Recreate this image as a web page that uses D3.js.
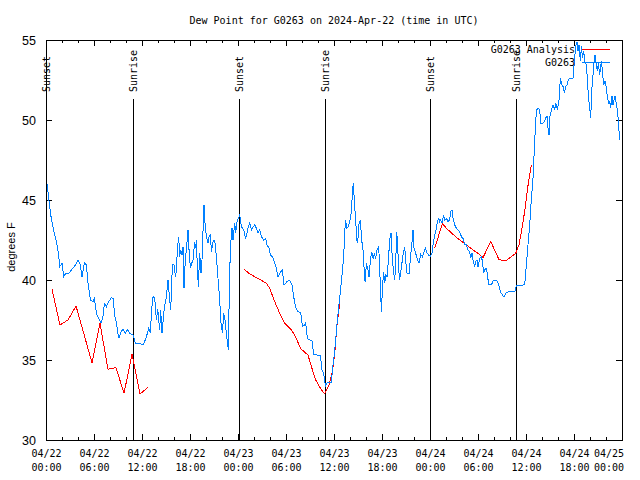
<!DOCTYPE html>
<html><head><meta charset="utf-8">
<script src="https://cdn.jsdelivr.net/npm/d3@7"></script>
<style>body{margin:0;background:#fff} svg{display:block}</style>
</head><body><svg id="c" width="640" height="480"></svg>
<script>
// ---- data ----
const titleText = "Dew Point for G0263 on 2024-Apr-22 (time in UTC)";
const yLabelText = "degrees F";
const startUTC = Date.UTC(2024, 3, 22, 0, 0);
const spanHours = 72;
const yDomain = [30, 55];
const yTicks = [30, 35, 40, 45, 50, 55];
const majorTickHours = [0, 6, 12, 18, 24, 30, 36, 42, 48, 54, 60, 66, 72];
const minorTickHours = [2, 4, 8, 10, 14, 16, 20, 22, 26, 28, 32, 34, 38, 40, 44, 46, 50, 52, 56, 58, 62, 64, 68, 70];
const sunsetHours = [0.05, 24.1, 48.05];
const sunriseHours = [10.85, 34.9, 58.8];
const legendNames = ["G0263 Analysis", "G0263"];
const seriesColors = ["#ff0000", "#0080ff"];

// observed dew point: [hours since 04/22 00:00 UTC, degF]
const obsSeries = [
[0.15,46.0],[0.34,45.06],[0.63,43.96],[0.96,43.1],[1.30,42.4],[1.59,41.56],[1.71,40.83],[2.0,41.04],[2.21,40.2],[2.43,40.4],
[2.84,40.4],[3.25,40.67],[3.68,40.94],[4.0,41.25],[4.3,40.94],[4.5,40.2],[4.8,41.08],[5.05,40.94],[5.25,39.79],[5.55,38.75],
[5.88,38.65],[6.05,38.85],[6.3,37.92],[6.59,37.6],[6.88,37.3],[7.09,37.6],[7.3,38.54],[7.55,38.33],[7.84,38.65],[8.18,38.9],
[8.38,38.85],[8.59,37.8],[8.8,37.3],[9.09,36.35],[9.38,36.77],[9.63,36.92],[9.93,36.67],[10.21,36.92],[10.46,36.67],[10.88,36.56],
[11.18,36.04],[12.21,35.98],[12.55,36.46],[12.84,36.98],[13.05,36.67],[13.21,38.2],[13.4,39.0],[13.59,38.85],[13.8,37.5],[13.96,38.2],
[14.21,36.9],[14.34,38.1],[14.5,36.67],[14.8,38.33],[15.05,38.96],[15.25,40.0],[15.46,38.75],[15.59,38.1],[15.8,40.94],[16.0,40.94],
[16.18,40.2],[16.3,40.63],[16.43,41.98],[16.59,42.7],[16.71,41.46],[16.84,41.88],[17.0,41.56],[17.13,42.08],[17.25,39.48],[17.43,41.46],
[17.55,41.88],[17.75,43.13],[17.88,41.88],[18.05,40.73],[18.21,41.04],[18.38,41.25],[18.59,42.4],[18.71,41.98],[18.8,42.5],[18.93,40.63],
[19.05,39.58],[19.21,41.67],[19.38,40.42],[19.5,41.25],[19.63,43.13],[19.75,44.69],[19.88,43.54],[20.05,42.7],[20.25,42.29],[20.38,42.7],
[20.55,42.81],[20.68,41.77],[20.88,42.4],[21.09,42.5],[21.3,41.46],[21.5,40.1],[21.71,38.75],[21.88,37.3],[22.05,36.67],[22.21,37.92],
[22.38,37.5],[22.55,36.67],[22.68,36.04],[22.8,35.63],[22.88,38.33],[22.96,40.52],[23.09,42.29],[23.25,43.23],[23.38,42.5],[23.59,43.54],
[23.71,42.92],[23.88,43.65],[24.05,43.85],[24.21,44.06],[24.43,43.33],[24.71,43.13],[24.96,42.6],[25.25,43.23],[25.46,43.54],[25.68,43.13],
[25.88,43.33],[26.09,43.44],[26.3,43.23],[26.5,42.92],[26.71,43.13],[26.93,42.7],[27.21,42.5],[27.46,42.6],[27.63,42.19],[27.88,41.98],
[28.05,41.56],[28.3,41.46],[28.59,41.04],[28.8,40.73],[29.0,40.2],[29.21,40.42],[29.55,40.63],[29.75,39.69],[30.13,39.9],[30.46,40.0],
[30.75,39.69],[30.96,38.96],[31.18,38.33],[31.5,38.02],[31.84,37.96],[32.05,37.08],[32.34,37.19],[32.46,37.3],[32.68,36.35],[32.96,36.25],
[33.25,36.21],[33.46,35.35],[33.88,35.31],[34.3,35.29],[34.5,34.38],[34.71,34.17],[34.93,33.33],[35.05,33.54],[35.38,33.6],[35.68,33.58],
[35.8,34.38],[35.96,35.0],[36.18,36.04],[36.38,37.3],[36.59,38.33],[36.8,39.27],[37.0,40.31],[37.21,41.46],[37.34,43.02],[37.46,43.75],
[37.59,43.23],[37.75,43.33],[37.96,43.65],[38.18,44.27],[38.3,45.52],[38.43,46.08],[38.55,44.79],[38.71,43.75],[38.84,42.5],[38.96,42.29],
[39.13,43.54],[39.3,43.75],[39.46,42.5],[39.63,41.88],[39.75,40.83],[39.88,39.9],[40.05,41.04],[40.25,40.63],[40.38,40.2],[40.55,41.25],
[40.71,41.77],[40.88,41.35],[41.05,41.67],[41.21,41.35],[41.38,41.88],[41.59,42.08],[41.71,40.73],[41.84,39.06],[41.93,38.02],[42.05,39.48],
[42.21,40.52],[42.34,39.79],[42.46,40.31],[42.63,40.2],[42.8,41.25],[42.96,42.5],[43.13,42.92],[43.25,41.67],[43.43,40.52],[43.59,40.0],
[43.71,41.04],[43.84,43.02],[43.96,42.08],[44.09,40.63],[44.21,40.0],[44.43,40.83],[44.63,41.56],[44.84,42.08],[44.96,41.15],[45.13,40.42],
[45.38,40.42],[45.59,41.56],[45.8,42.6],[45.88,43.13],[46.0,41.98],[46.21,41.67],[46.43,41.25],[46.63,41.04],[46.84,41.6],[47.05,41.46],
[47.25,41.77],[47.43,41.98],[47.63,41.67],[47.84,41.56],[48.05,41.46],[48.25,41.67],[48.38,42.19],[48.59,42.81],[48.8,43.23],[48.93,43.65],
[49.09,43.85],[49.21,43.65],[49.34,43.75],[49.5,43.54],[49.71,44.06],[49.84,43.75],[50.05,43.85],[50.25,43.65],[50.46,43.75],[50.59,44.27],
[50.75,44.38],[50.88,43.85],[51.09,43.44],[51.3,43.23],[51.5,43.13],[51.71,43.02],[51.93,42.7],[52.13,42.6],[52.34,42.19],[52.55,42.19],
[52.75,41.88],[52.96,41.77],[53.09,41.35],[53.25,41.67],[53.38,41.25],[53.59,40.83],[53.71,41.15],[53.88,41.25],[54.0,40.83],[54.21,41.35],
[54.43,41.46],[54.55,41.15],[54.71,40.42],[54.84,40.63],[55.05,40.73],[55.18,40.31],[55.34,39.69],[55.68,39.69],[55.88,39.94],[56.09,40.0],
[56.38,39.94],[56.59,39.69],[56.8,39.27],[57.13,39.0],[57.34,39.0],[57.55,39.23],[57.96,39.27],[58.59,39.27],[58.8,39.65],[59.21,39.65],
[59.63,39.69],[59.84,39.7],[60.05,40.96],[60.25,42.21],[60.46,43.46],[60.68,45.13],[60.88,46.38],[61.0,47.73],[61.13,49.08],[61.3,50.65],
[61.5,50.71],[61.71,50.65],[61.84,49.81],[62.13,49.81],[62.34,49.92],[62.46,50.13],[62.63,50.23],[62.75,49.5],[62.88,49.08],[62.96,50.13],
[63.18,50.65],[63.38,50.96],[63.59,50.65],[63.71,51.06],[63.93,50.65],[64.13,51.27],[64.3,52.63],[64.46,52.21],[64.63,52.1],[64.8,51.69],
[64.96,52.1],[65.13,52.21],[65.3,52.52],[65.46,52.58],[65.88,52.63],[66.09,53.88],[66.21,54.6],[66.38,54.88],[66.5,54.29],[66.63,54.71],
[66.8,53.67],[66.93,54.6],[67.05,53.88],[67.21,54.29],[67.38,53.56],[67.55,53.46],[67.68,52.42],[67.8,51.48],[67.96,50.75],[68.09,50.13],
[68.21,51.79],[68.38,52.83],[68.5,53.56],[68.63,54.08],[68.8,53.46],[68.93,53.04],[69.05,53.56],[69.21,52.83],[69.43,53.67],[69.55,53.04],
[69.71,52.21],[69.88,52.42],[70.05,52.0],[70.18,51.38],[70.34,51.06],[70.46,51.17],[70.59,50.75],[70.75,51.48],[70.88,50.96],[71.0,51.27],
[71.13,51.48],[71.3,50.96],[71.43,50.65],[71.55,49.92],[71.63,49.29],[71.71,48.77]
];

// analysis dew point segments: [hours, degF]
const anaSeg1 = [[0.75,39.42],[1.75,37.19],[2.75,37.5],[3.75,38.38],[5.75,34.83],[6.75,37.3],[7.75,34.42],[8.75,34.52],[9.75,32.92],[10.75,35.35],[11.75,32.88],[12.75,33.29]];
const anaSeg2 = [[24.71,40.69],[25.46,40.38],[26.71,40.04],[27.55,39.79],[27.96,39.48],[28.59,38.65],[29.21,37.92],[29.84,37.29],[30.68,36.88],[31.3,36.35],[31.8,35.73],[32.75,35.31],[33.18,34.58],[33.71,33.75],[34.3,33.23],[34.84,32.88],[35.38,33.44],[35.8,34.27],[36.09,35.42],[36.38,37.19],[36.71,38.5]];
const anaSeg3 = [[48.59,41.98],[49.55,43.54],[50.05,43.23],[50.88,42.85],[51.71,42.5],[52.55,42.19],[53.38,41.88],[54.0,41.67],[54.63,41.4],[55.59,42.42],[56.59,41.3],[57.13,41.21],[57.59,41.25],[58.71,41.67],[59.13,42.2],[59.45,43.1],[59.84,44.3],[60.25,45.9],[60.68,47.2]];

// ---- drawing ----
const mono = "'DejaVu Sans Mono', 'Liberation Mono', monospace";
const sans = "'Liberation Sans', Arial, sans-serif";
const svg = d3.select("#c");
svg.append("rect").attr("width",640).attr("height",480).attr("fill","#fff");

const hToDate = h => new Date(startUTC + h*3600e3);
const x = d3.scaleUtc().domain([hToDate(0), hToDate(spanHours)]).range([46, 622]);
const y = d3.scaleLinear().domain(yDomain).range([440, 40]);
const fmtD = d3.utcFormat("%m/%d"), fmtT = d3.utcFormat("%H:%M");

function tidy(g){ g.select(".domain").remove(); g.selectAll(".tick line").attr("stroke","#000"); g.selectAll("text").remove(); }

// x ticks bottom/top (inward)
svg.append("g").attr("transform","translate(0,440)").call(d3.axisBottom(x).tickValues(majorTickHours.map(hToDate)).tickSize(-6)).call(tidy);
svg.append("g").attr("transform","translate(0,440)").call(d3.axisBottom(x).tickValues(minorTickHours.map(hToDate)).tickSize(-3)).call(tidy);
svg.append("g").attr("transform","translate(0,40)").call(d3.axisTop(x).tickValues(majorTickHours.map(hToDate)).tickSize(-6)).call(tidy);
svg.append("g").attr("transform","translate(0,40)").call(d3.axisTop(x).tickValues(minorTickHours.map(hToDate)).tickSize(-3)).call(tidy);
// y ticks left/right
svg.append("g").attr("transform","translate(46,0)").call(d3.axisLeft(y).tickValues(yTicks).tickSize(-6)).call(tidy);
svg.append("g").attr("transform","translate(622,0)").call(d3.axisRight(y).tickValues(yTicks).tickSize(-6)).call(tidy);

// x tick labels (last one kept inside the canvas, as in the reference)
const xl = svg.append("g").attr("font-family", mono).attr("font-size", 10).attr("fill","#000");
majorTickHours.forEach((h, i) => {
  const d = hToDate(h);
  const last = i === majorTickHours.length - 1;
  const px = last ? x(d) + 2 : x(d) + 0.5;
  const anchor = last ? "end" : "middle";
  xl.append("text").attr("x", px).attr("y", 457).attr("text-anchor", anchor).text(fmtD(d));
  xl.append("text").attr("x", px).attr("y", 471).attr("text-anchor", anchor).text(fmtT(d));
});
// y tick labels
const yl = svg.append("g").attr("font-family", sans).attr("font-size", 12.5).attr("fill","#000").attr("text-anchor","end");
yTicks.forEach(v => yl.append("text").attr("x", 36).attr("y", y(v) + 4.5).text(v));

// sunrise/sunset markers
const marks = sunsetHours.map(h => ({h, t:"Sunset"})).concat(sunriseHours.map(h => ({h, t:"Sunrise"})));
marks.forEach(m => {
  const px = Math.round(x(hToDate(m.h))) + 0.5;
  svg.append("line").attr("x1",px).attr("x2",px).attr("y1",99).attr("y2",440).attr("stroke","#000").attr("stroke-width",1);
  svg.append("text").attr("transform",`translate(${px},92) rotate(-90)`).attr("dy","0.36em")
    .attr("font-family", mono).attr("font-size",10).attr("fill","#000").text(m.t);
});

// border
svg.append("rect").attr("x",46.5).attr("y",40.5).attr("width",576).attr("height",400).attr("fill","none").attr("stroke","#000");

// data lines
const line = d3.line().x(d => x(hToDate(d[0]))).y(d => y(d[1]));
[anaSeg1, anaSeg2, anaSeg3].forEach(seg => svg.append("path").attr("d", line(seg)).attr("fill","none")
  .attr("stroke", seriesColors[0]).attr("stroke-width",1).attr("shape-rendering","crispEdges"));
svg.append("path").attr("d", line(obsSeries)).attr("fill","none")
  .attr("stroke", seriesColors[1]).attr("stroke-width",1).attr("shape-rendering","crispEdges");

// legend
const lg = svg.append("g").attr("font-family", mono).attr("font-size", 10).attr("fill","#000");
legendNames.forEach((n,i) => {
  const ly = 49.5 + i*13;
  lg.append("text").attr("x",575).attr("y",ly).attr("dy","0.36em").attr("text-anchor","end").text(n);
  lg.append("line").attr("x1",582).attr("x2",610).attr("y1",ly).attr("y2",ly).attr("stroke",seriesColors[i]).attr("stroke-width",1);
});

// title and y label
svg.append("text").attr("x",334).attr("y",20).attr("dy","0.36em").attr("text-anchor","middle")
  .attr("font-family", mono).attr("font-size",10).attr("fill","#000").text(titleText);
svg.append("text").attr("transform","translate(11,247) rotate(-90)").attr("dy","0.36em").attr("text-anchor","middle")
  .attr("font-family", sans).attr("font-size",11).attr("fill","#000").text(yLabelText);
</script>
</body></html>
